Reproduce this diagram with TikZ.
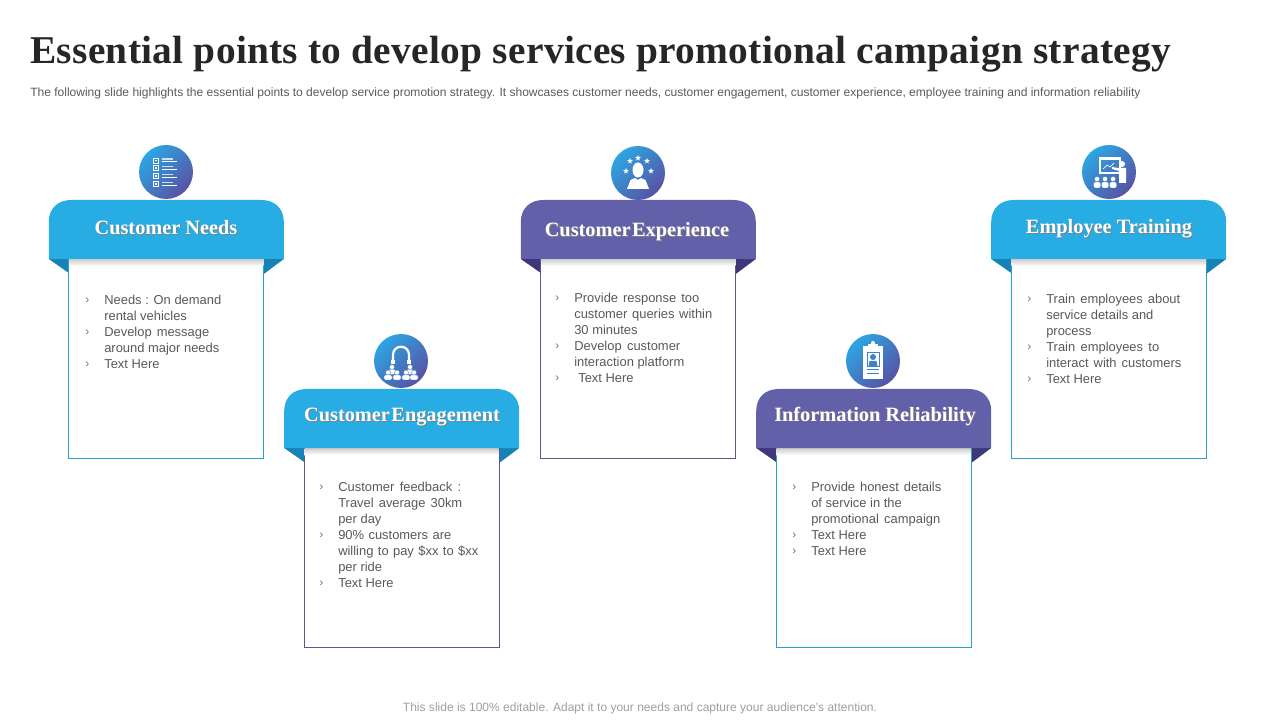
\documentclass[tikz,border=0pt]{standalone}
\usepackage{fontspec}
\setmainfont{Liberation Sans}
\newfontfamily\headfont{Liberation Serif}
\usetikzlibrary{shapes.geometric}
\newdimen\pxunit \pxunit=0.025cm
\newcommand{\fitline}[2]{\makebox[#1\pxunit][s]{#2}}
\newcommand{\tightgap}{\kern-2.5pt\ }
\definecolor{bluehead}{RGB}{39,172,227}
\definecolor{bluefold}{RGB}{22,130,182}
\definecolor{purplehead}{RGB}{98,96,168}
\definecolor{purplefold}{RGB}{60,56,122}
\definecolor{bodytext}{RGB}{89,89,89}
\definecolor{iconblue}{RGB}{64,130,200}
\definecolor{discstart}{RGB}{44,166,226}
\definecolor{discend}{RGB}{88,82,165}
\definecolor{linepurple}{RGB}{90,88,140}
\definecolor{lineblue}{RGB}{40,160,200}
\tikzset{
  titletext/.style={anchor=base west,inner sep=0,text=black!85,font=\headfont\bfseries\fontsize{28}{30}\selectfont\addfontfeatures{LetterSpace=0.8}},
  subtext/.style={anchor=base west,inner sep=0,text=bodytext,font=\fontsize{8.55}{10}\selectfont},
  foottext/.style={anchor=base,inner sep=0,text=black!38,font=\fontsize{8.55}{10}\selectfont},
  headtext/.style={anchor=base,inner sep=0,text=white,font=\headfont\bfseries\fontsize{14.45}{16}\selectfont},
  headshadow/.style={anchor=base,inner sep=0,text=black!50,font=\headfont\bfseries\fontsize{14.45}{16}\selectfont},
  itemtext/.style={anchor=north west,inner sep=0,align=left,text=bodytext,font=\fontsize{9.2}{11.38}\selectfont},
  itemmark/.style={anchor=north west,inner sep=0,text=black!55,font=\fontsize{8.5}{11.38}\selectfont},
  iconstar/.style={star,star points=5,star point ratio=2.3,fill=white,inner sep=0,minimum size=0.15cm},
}
\begin{document}
\begin{tikzpicture}[x=0.025cm,y=-0.025cm]
\useasboundingbox (0,0) rectangle (1280,720);

\node [titletext] (title) at (30,64) {Essential points to develop services promotional campaign strategy};
\node [subtext] (sub) at (30,96.5) {The following slide highlights the essential points to develop service promotion strategy. It showcases customer needs, customer engagement, customer experience, employee training and information reliability};
\node [foottext] (foot) at (640,711) {This slide is 100\% editable. Adapt it to your needs and capture your audience's attention.};

% cards
\foreach \cx/\cy/\boxh/\headc/\foldc/\linec in {
  166.3/200/258.5/bluehead/bluefold/lineblue,
  401.7/389/258.5/bluehead/bluefold/linepurple,
  638.3/200/258.5/purplehead/purplefold/linepurple,
  873.7/389/258.5/purplehead/purplefold/lineblue,
  1108.7/200/258.5/bluehead/bluefold/lineblue}{
\begin{scope}[shift={(\cx,\cy)}]
\fill [\foldc] (-117.5,59) -- (-97.5,59) -- (-97.5,73) -- cycle;
\fill [\foldc] (117.5,59) -- (97.5,59) -- (97.5,74) -- cycle;
\draw [\linec,fill=white,line width=0.5pt] (-97.5,59) rectangle (97.5,\boxh);
\shade [top color=black!20,bottom color=white] (-97,59) rectangle (97,66);
\fill [\headc] (-117.5,59) -- (-117.5,22) .. controls (-117.5,8) and (-108,0) .. (-95,0) -- (95,0) .. controls (108,0) and (117.5,8) .. (117.5,22) -- (117.5,59) -- cycle;
\end{scope}
}

% icon discs
\foreach \cx/\cy in {166/172,401/361,638/173,873/361,1109/172}
  \shade [left color=discstart,right color=discend,shading angle=45] (\cx,\cy) circle [radius=27];

% checklist icon
\begin{scope}[shift={(166,172)}]
\foreach \dy in {-14,-6.5,1.5,9.5}{
  \draw [white,line width=0.5pt] (-13,\dy) rectangle (-7.5,\dy+5);
  \fill [white] (-11,\dy+1.8) rectangle (-9.5,\dy+3.2);
  \fill [white!75!iconblue] (-4.5,\dy+0.5) rectangle (7,\dy+1.8);
  \fill [white] (-4.5,\dy+3.2) rectangle (11,\dy+4.4);
}
\end{scope}

% arch and people icon
\begin{scope}[shift={(401,361)}]
\draw [white,line width=1.6pt] (-8,0) -- (-8,-6) .. controls (-8,-17) and (8,-17) .. (8,-6) -- (8,0);
\fill [white] (-10,-1) rectangle (-6,3);
\fill [white] (6,-1) rectangle (10,3);
\foreach \px/\py in {-9/6,9/6,-13/11.5,-4/11.5,5/11.5,13/11.5}{
  \fill [white,draw=iconblue,line width=0.3pt] (\px,\py) circle [radius=2.5];
  \fill [white,draw=iconblue,line width=0.3pt,rounded corners=1pt] (\px-4,\py+2.5) rectangle (\px+4,\py+7.5);
}
\end{scope}

% person and stars icon
\begin{scope}[shift={(638,173)}]
\fill [white] (0,-3) ellipse [x radius=5.5,y radius=7.5];
\fill [white] (-11,16) -- (-7.5,7) -- (-3,5) -- (0,7) -- (3,5) -- (7.5,7) -- (11,16) -- cycle;
\foreach \i/\sx/\sy in {1/-8/-12,2/0/-15,3/9/-12,4/-12/-2,5/13/-2}
  \node [iconstar] (star\i) at (\sx,\sy) {};
\end{scope}

% clipboard icon
\begin{scope}[shift={(873,361)}]
\fill [white] (-10,-15) rectangle (10,18);
\fill [white] (-5,-17) rectangle (5,-12);
\fill [white] (0,-18) circle [radius=2];
\draw [iconblue,line width=0.5pt] (-6,-9) rectangle (6,5);
\fill [iconblue] (0,-4) circle [radius=3];
\fill [iconblue] (-4.5,5) -- (-3.5,0) -- (3.5,0) -- (4.5,5) -- cycle;
\fill [iconblue] (-6,8.5) rectangle (6,9.5);
\fill [iconblue] (-6,12.5) rectangle (6,13.5);
\end{scope}

% training icon
\begin{scope}[shift={(1109,172)}]
\draw [white,line width=0.8pt] (-9,-13) rectangle (11,1);
\fill [white] (-10,-15) rectangle (12,-13);
\draw [white,line width=0.5pt] (-6,-3) -- (-2,-7) -- (1,-5) -- (5,-9);
\fill [white] (13,-8) circle [radius=3];
\fill [white] (9,-4) -- (17,-4) -- (17,11) -- (10,11) -- (10,-1) -- (3,-3) -- (3,-5) -- cycle;
\foreach \px in {-12,-4,4}{
  \fill [white,draw=iconblue,line width=0.3pt] (\px,7) circle [radius=2.6];
  \fill [white,draw=iconblue,line width=0.3pt,rounded corners=1pt] (\px-3.7,10) rectangle (\px+3.7,16);
}
\end{scope}

% card titles
\node [headshadow] (needsS) at (167,236) {Customer Needs};
\node [headtext] (needs) at (166,235) {Customer Needs};
\node [headshadow] (engageS) at (403,423) {Customer\tightgap Engagement};
\node [headtext] (engage) at (402,422) {Customer\tightgap Engagement};
\node [headshadow] (experS) at (638,238) {Customer\tightgap Experience};
\node [headtext] (exper) at (637,237) {Customer\tightgap Experience};
\node [headshadow] (inforS) at (876,422) {Information Reliability};
\node [headtext] (infor) at (875,421) {Information Reliability};
\node [headshadow] (trainS) at (1110,235) {Employee Training};
\node [headtext] (train) at (1109,234) {Employee Training};

% card one
\node [itemmark] (m11) at (85,298) {›};
\node [itemtext] (t11) at (104,295) {\fitline{117}{Needs : On demand}\\rental vehicles};
\node [itemmark] (m12) at (85,330) {›};
\node [itemtext] (t12) at (104,327) {\fitline{105}{Develop message}\\around major needs};
\node [itemmark] (m13) at (85,362) {›};
\node [itemtext] (t13) at (104,359) {Text Here};

% card two
\node [itemmark] (m21) at (319,485) {›};
\node [itemtext] (t21) at (338,482) {\fitline{123}{Customer feedback :}\\\fitline{124}{Travel average 30km}\\per day};
\node [itemmark] (m22) at (319,533) {›};
\node [itemtext] (t22) at (338,530) {\fitline{113}{90\% customers are}\\\fitline{140}{willing to pay \$xx to \$xx}\\per ride};
\node [itemmark] (m23) at (319,581) {›};
\node [itemtext] (t23) at (338,578) {Text Here};

% card three
\node [itemmark] (m31) at (555,296) {›};
\node [itemtext] (t31) at (574,293) {\fitline{125}{Provide response too}\\\fitline{138}{customer queries within}\\30 minutes};
\node [itemmark] (m32) at (555,344) {›};
\node [itemtext] (t32) at (574,341) {\fitline{106}{Develop customer}\\interaction platform};
\node [itemmark] (m33) at (555,376) {›};
\node [itemtext] (t33) at (578,373) {Text Here};

% card four
\node [itemmark] (m41) at (792,485) {›};
\node [itemtext] (t41) at (811,482) {\fitline{130}{Provide honest details}\\of service in the\\\fitline{129}{promotional campaign}};
\node [itemmark] (m42) at (792,533) {›};
\node [itemtext] (t42) at (811,530) {Text Here};
\node [itemmark] (m43) at (792,549) {›};
\node [itemtext] (t43) at (811,546) {Text Here};

% card five
\node [itemmark] (m51) at (1027,297) {›};
\node [itemtext] (t51) at (1046,294) {\fitline{134}{Train employees about}\\service details and\\process};
\node [itemmark] (m52) at (1027,345) {›};
\node [itemtext] (t52) at (1046,342) {\fitline{113}{Train employees to}\\\fitline{135}{interact with customers}};
\node [itemmark] (m53) at (1027,377) {›};
\node [itemtext] (t53) at (1046,374) {Text Here};
\end{tikzpicture}
\end{document}
